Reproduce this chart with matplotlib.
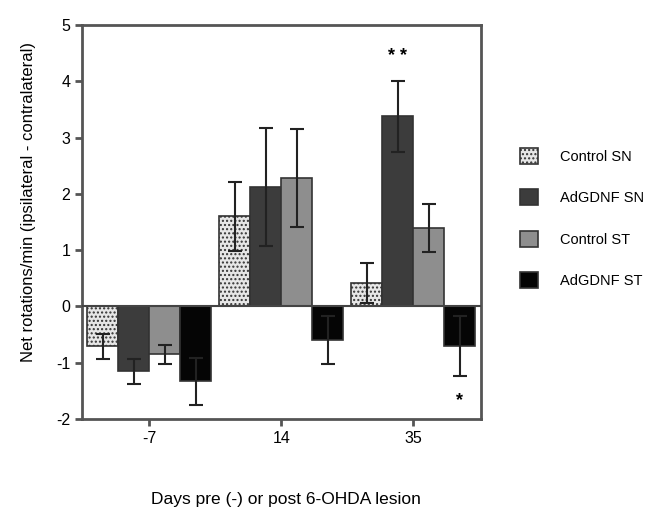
import matplotlib.pyplot as plt
import numpy as np

plt.rcParams['font.family'] = ['Liberation Sans', 'DejaVu Sans']
plt.rcParams['axes.unicode_minus'] = False

days = ['-7', '14', '35']
groups = ['Control SN', 'AdGDNF SN', 'Control ST', 'AdGDNF ST']
means = {
    'Control SN': [-0.71, 1.60, 0.42],
    'AdGDNF SN': [-1.15, 2.12, 3.38],
    'Control ST': [-0.85, 2.28, 1.40],
    'AdGDNF ST': [-1.33, -0.60, -0.70],
}
errs = {
    'Control SN': [0.22, 0.62, 0.35],
    'AdGDNF SN': [0.22, 1.05, 0.63],
    'Control ST': [0.17, 0.87, 0.43],
    'AdGDNF ST': [0.42, 0.43, 0.53],
}
colors = {'Control SN': '#e6e6e6', 'AdGDNF SN': '#3c3c3c',
          'Control ST': '#8e8e8e', 'AdGDNF ST': '#050505'}
hatches = {'Control SN': '....', 'AdGDNF SN': '', 'Control ST': '', 'AdGDNF ST': ''}

fig = plt.figure(figsize=(6.62, 5.25), dpi=100)
ax = fig.add_axes([0.124, 0.202, 0.603, 0.75])

x = np.arange(len(days))
w = 0.235
for i, g in enumerate(groups):
    pos = x + (i - 1.5) * w
    ax.bar(pos, means[g], w, color=colors[g], edgecolor='#333333', linewidth=1.2,
           hatch=hatches[g], label=g, zorder=2)
    ax.errorbar(pos, means[g], yerr=errs[g], fmt='none', ecolor='#222222',
                elinewidth=1.5, capsize=5, capthick=1.5, zorder=3)

ax.axhline(0, color='#444444', linewidth=1.5, zorder=4)

# significance marks
ax.text(x[2] - 0.5 * w, 4.45, '* *', ha='center', va='center', fontsize=13, fontweight='bold')
ax.text(x[2] + 1.5 * w, -1.68, '*', ha='center', va='center', fontsize=13, fontweight='bold')

ax.set_xlim(-0.508, 2.515)
ax.set_ylim(-2, 5)
ax.set_yticks(range(-2, 6))
ax.set_xticks(x)
ax.set_xticklabels(days)
for s in ax.spines.values():
    s.set_linewidth(2)
    s.set_color('#555555')
ax.tick_params(axis='both', labelsize=11.5, width=2, length=5, color='#555555')
ax.set_ylabel('Net rotations/min (ipsilateral - contralateral)', fontsize=12)
ax.yaxis.set_label_coords(-0.115, 0.55)
ax.set_xlabel('Days pre (-) or post 6-OHDA lesion', fontsize=12.5)
ax.xaxis.set_label_coords(0.51, -0.185)

ax.legend(loc='center left', bbox_to_anchor=(1.065, 0.51), frameon=False,
          handlelength=1.2, handleheight=1.3, labelspacing=1.75, fontsize=10.5,
          handletextpad=1.5)

fig.savefig('out.png', dpi=100)
